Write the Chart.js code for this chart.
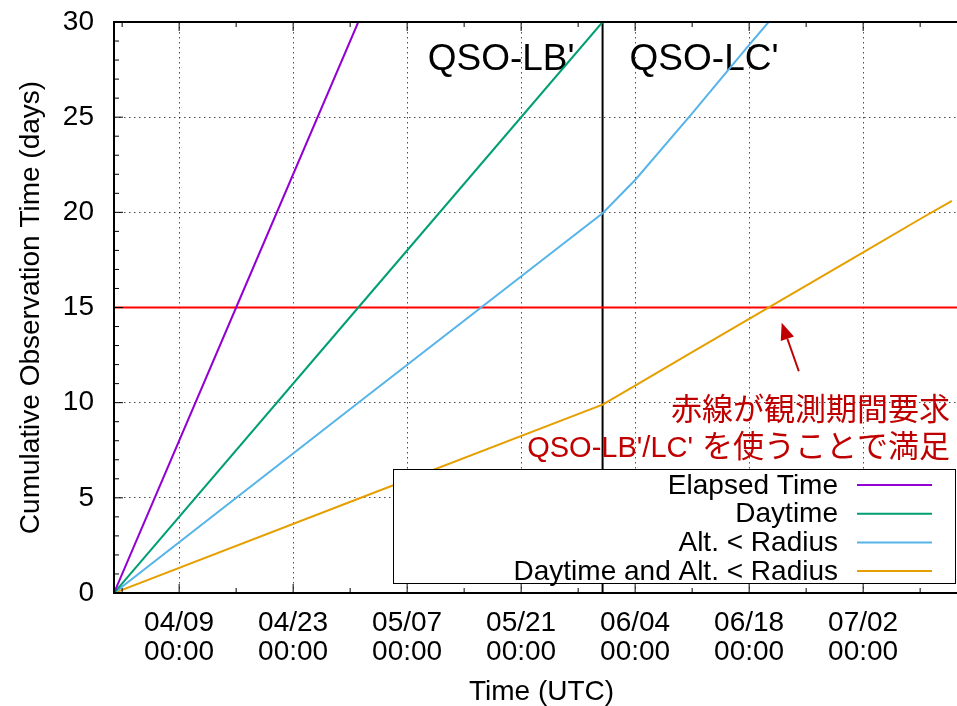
<!DOCTYPE html>
<html><head><meta charset="utf-8">
<script src="https://cdn.jsdelivr.net/npm/chart.js@4/dist/chart.umd.min.js"></script>
<style>
html,body{margin:0;padding:0;background:#fff;overflow:hidden;}
#wrap{position:relative;width:980px;height:706px;}
</style></head><body>
<div id="wrap"><canvas id="c" width="980" height="706"></canvas></div>
<script>
// x values are days since 04/01 00:00 UTC
const majorTickDays = [8, 22, 36, 50, 64, 78, 92];
const majorTickLabels = [['04/09','00:00'],['04/23','00:00'],['05/07','00:00'],['05/21','00:00'],['06/04','00:00'],['06/18','00:00'],['07/02','00:00']];
const seriesLabels = ['Elapsed Time', 'Daytime', 'Alt. < Radius', 'Daytime and Alt. < Radius'];
const seriesColors = ['#9400d3', '#009e73', '#56b4e9', '#e69f00'];
const elapsedDays = [0, 15, 30];
const elapsedValues = [0, 15, 30];
const daytimeDays = [0, 30, 60];
const daytimeValues = [0, 15, 30];
const altDays = [0, 30, 60, 64, 71, 78, 82];
const altValues = [0, 10, 19.95, 21.7, 25.2, 28.8, 30.8];
const dayAltDays = [0, 30, 60, 64, 71, 78, 85, 92, 99, 102.9];
const dayAltValues = [0, 4.95, 9.9, 10.9, 12.65, 14.4, 16.15, 17.9, 19.65, 20.6];
const requirementDays = 15;
const switchDay = 60;
const xMin = 0, xMax = 105, yMin = 0, yMax = 30;

const FONT = "'Liberation Sans', Arial, Helvetica, sans-serif";
const toPts = (xs, ys) => xs.map((d, i) => ({x: d, y: ys[i]}));

const series = [
  toPts(elapsedDays, elapsedValues),
  toPts(daytimeDays, daytimeValues),
  toPts(altDays, altValues),
  toPts(dayAltDays, dayAltValues)
];
const datasets = series.map((pts, i) => ({
  label: seriesLabels[i], data: pts, borderColor: seriesColors[i], backgroundColor: seriesColors[i],
  borderWidth: 2, pointRadius: 0, tension: 0, fill: false
}));
datasets.push({label: 'req', data: [{x: xMin, y: requirementDays}, {x: xMax, y: requirementDays}],
  borderColor: '#ff0000', borderWidth: 2.2, pointRadius: 0, fill: false});
datasets.push({label: 'switch', data: [{x: switchDay, y: yMin}, {x: switchDay, y: yMax}],
  borderColor: '#000', borderWidth: 2, pointRadius: 0, fill: false});

function seg(ctx, x1, y1, x2, y2) { ctx.beginPath(); ctx.moveTo(x1, y1); ctx.lineTo(x2, y2); ctx.stroke(); }

const textPlugin = {
  id: 'qsoText',
  beforeDatasetsDraw(chart) {
    const {ctx, scales: {x, y}} = chart;
    const px = x.getPixelForValue(switchDay);
    ctx.save();
    ctx.fillStyle = '#000';
    ctx.font = '37px ' + FONT;
    ctx.textBaseline = 'alphabetic';
    ctx.textAlign = 'right';
    ctx.fillText("QSO-LB'", px - 28, 70);
    ctx.textAlign = 'left';
    ctx.fillText("QSO-LC'", px + 27, 70);
    ctx.restore();
  }
};

const framePlugin = {
  id: 'gpFrame',
  afterDatasetsDraw(chart) {
    const {ctx, chartArea: a, scales: {x, y}} = chart;
    ctx.save();
    ctx.strokeStyle = '#000';
    ctx.lineWidth = 1;
    const minorDays = [];
    majorTickDays.forEach(d => { minorDays.push(d - 7); });
    minorDays.push(majorTickDays[majorTickDays.length - 1] + 7);
    majorTickDays.forEach(d => {
      const p = x.getPixelForValue(d);
      seg(ctx, p, a.bottom, p, a.bottom - 9);
      seg(ctx, p, a.top, p, a.top + 9);
    });
    minorDays.forEach(d => {
      const p = x.getPixelForValue(d);
      seg(ctx, p, a.bottom, p, a.bottom - 5);
      seg(ctx, p, a.top, p, a.top + 5);
    });
    for (let v = yMin; v <= yMax; v++) {
      const p = y.getPixelForValue(v);
      const len = v % 5 === 0 ? 9 : 5;
      seg(ctx, a.left, p, a.left + len, p);
      seg(ctx, a.right, p, a.right - len, p);
    }
    ctx.lineWidth = 2;
    ctx.beginPath();
    ctx.moveTo(a.left, a.top); ctx.lineTo(a.right, a.top); ctx.lineTo(a.right, a.bottom);
    ctx.lineTo(a.left, a.bottom); ctx.closePath(); ctx.stroke();

    // legend box
    const L = 393, T = a.bottom - 124, R = a.right - 14, B = a.bottom - 10;
    ctx.fillStyle = '#fff';
    ctx.fillRect(L, T, R - L, B - T);
    ctx.lineWidth = 1;
    ctx.strokeStyle = '#000';
    ctx.strokeRect(L + 0.5, T + 0.5, R - L, B - T);
    ctx.font = '28px ' + FONT;
    ctx.textAlign = 'right';
    ctx.textBaseline = 'middle';
    for (let i = 0; i < 4; i++) {
      const ds = chart.data.datasets[i];
      const cy = T + 16 + i * 28.7;
      ctx.fillStyle = '#000';
      ctx.fillText(ds.label, R - 117, cy + 1);
      ctx.strokeStyle = ds.borderColor;
      ctx.lineWidth = 2;
      seg(ctx, R - 98, cy, R - 23, cy);
    }
    ctx.restore();
  },
  afterDraw(chart) {
    const {ctx, scales: {x, y}} = chart;
    ctx.save();
    const tip = {x: x.getPixelForValue(82.0), y: y.getPixelForValue(14.2)};
    const tail = {x: x.getPixelForValue(84.1), y: y.getPixelForValue(11.65)};
    const ang = Math.atan2(tip.y - tail.y, tip.x - tail.x);
    const hl = 17, hw = 7;
    const bx = tip.x - hl * Math.cos(ang), by = tip.y - hl * Math.sin(ang);
    ctx.strokeStyle = '#c00000'; ctx.fillStyle = '#c00000'; ctx.lineWidth = 2;
    seg(ctx, tail.x, tail.y, bx, by);
    ctx.beginPath();
    ctx.moveTo(tip.x, tip.y);
    ctx.lineTo(bx + hw * Math.sin(ang), by - hw * Math.cos(ang));
    ctx.lineTo(bx - hw * Math.sin(ang), by + hw * Math.cos(ang));
    ctx.closePath(); ctx.fill();
    // red annotation text
    ctx.textAlign = 'right';
    ctx.textBaseline = 'alphabetic';
    ctx.font = "31px 'Noto Sans CJK JP', sans-serif";
    ctx.fillText('赤線が観測期間要求', 950, 420);
    const cjk2 = 'を使うことで満足';
    ctx.fillText(cjk2, 950, 457);
    const w2 = ctx.measureText(cjk2).width;
    ctx.font = "29px 'Liberation Sans', Arial, sans-serif";
    ctx.fillText("QSO-LB'/LC'", 950 - w2 - 9, 457);
    ctx.restore();
  }
};

const gridColorY = c => (c.tick && (c.tick.value === yMin || c.tick.value === yMax)) ? 'rgba(0,0,0,0)' : 'rgba(0,0,0,0.7)';

new Chart(document.getElementById('c'), {
  type: 'line',
  data: {datasets},
  plugins: [textPlugin, framePlugin],
  options: {
    responsive: false,
    animation: false,
    devicePixelRatio: 1,
    layout: {padding: {left: 0, right: 11, top: 22, bottom: 0}},
    plugins: {legend: {display: false}, tooltip: {enabled: false}},
    scales: {
      x: {
        type: 'linear', min: xMin, max: xMax,
        afterBuildTicks: s => { s.ticks = majorTickDays.map(v => ({value: v})); },
        afterFit: s => { s.height = 113; s.paddingLeft = 0; s.paddingRight = 0; },
        ticks: {
          autoSkip: false, maxRotation: 0, padding: 16, color: '#000',
          font: {family: FONT, size: 28, lineHeight: 1.04},
          callback: v => { const i = majorTickDays.indexOf(v); return i >= 0 ? majorTickLabels[i] : ''; }
        },
        grid: {drawTicks: false, color: 'rgba(0,0,0,0.7)', lineWidth: 1},
        border: {display: false, dash: [1.5, 3.5]},
        title: {display: true, text: 'Time (UTC)', color: '#000', font: {family: FONT, size: 28, lineHeight: 1}, padding: {top: 1, bottom: 0}}
      },
      y: {
        min: yMin, max: yMax,
        afterFit: s => { s.width = 114; s.paddingTop = 0; s.paddingBottom = 0; },
        ticks: {stepSize: 5, padding: 20, color: '#000', font: {family: FONT, size: 28, lineHeight: 1.2}},
        grid: {drawTicks: false, color: gridColorY, lineWidth: 1},
        border: {display: false, dash: [1.5, 3.5]},
        title: {display: true, text: 'Cumulative Observation Time (days)', color: '#000', font: {family: FONT, size: 28, lineHeight: 1}, padding: {top: 17, bottom: 0}}
      }
    }
  }
});
</script>
</body></html>
